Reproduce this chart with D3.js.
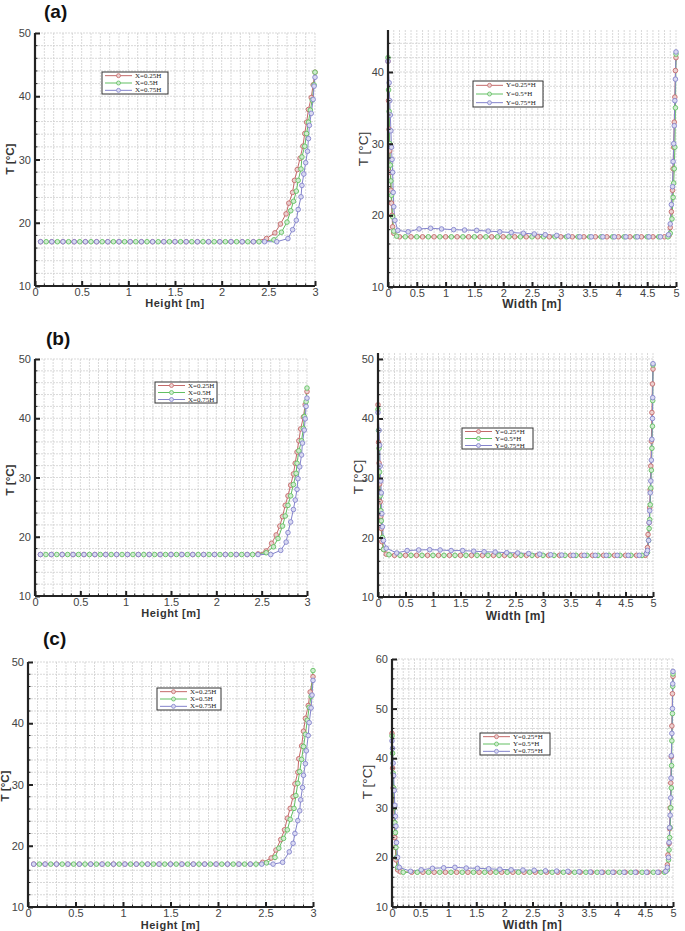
<!DOCTYPE html>
<html><head><meta charset="utf-8">
<script src="https://cdn.jsdelivr.net/npm/d3@7"></script>
<style>body{margin:0;background:#fff}svg{display:block}</style>
</head><body>
<svg id="chart" width="685" height="931"></svg>
<script>
// ---------------- DATA ----------------
const heightTicks = [0, 0.5, 1, 1.5, 2, 2.5, 3];
const heightTickLabels = ["0", "0.5", "1", "1.5", "2", "2.5", "3"];
const widthTicks = [0, 0.5, 1, 1.5, 2, 2.5, 3, 3.5, 4, 4.5, 5];
const widthTickLabels = ["0", "0.5", "1", "1.5", "2", "2.5", "3", "3.5", "4", "4.5", "5"];
const tempTicks40 = [10, 20, 30, 40];
const tempTicks50 = [10, 20, 30, 40, 50];
const tempTicks60 = [10, 20, 30, 40, 50, 60];
const legendX = ["X=0.25H", "X=0.5H", "X=0.75H"];
const legendY = ["Y=0.25*H", "Y=0.5*H", "Y=0.75*H"];
const panelTitles = ["(a)", "(b)", "(c)"];
const xTitleH = "Height [m]";
const xTitleW = "Width [m]";
const yTitle = "T [°C]";

// (a) temperature vs height
const aH_25 = [[0.06,17],[0.18,17],[0.30,17],[0.42,17],[0.54,17],[0.66,17],[0.78,17],[0.90,17],[1.02,17],[1.14,17],[1.26,17],[1.38,17],[1.50,17],[1.62,17],[1.74,17],[1.86,17],[1.98,17],[2.10,17],[2.22,17],[2.34,17],
  [2.48,17.5],[2.57,18.4],[2.63,19.8],[2.69,21.4],[2.72,23.1],[2.76,24.8],[2.78,26.7],[2.81,28.4],[2.84,30.2],[2.87,32.1],[2.89,34.1],[2.91,35.9],[2.93,37.9],[2.96,39.8],[2.98,41.8],[3.0,43.8]];
const aH_50 = [[0.12,17],[0.24,17],[0.36,17],[0.48,17],[0.60,17],[0.72,17],[0.84,17],[0.96,17],[1.08,17],[1.20,17],[1.32,17],[1.44,17],[1.56,17],[1.68,17],[1.80,17],[1.92,17],[2.04,17],[2.16,17],[2.28,17],[2.40,17],
  [2.56,17.3],[2.64,18.5],[2.70,20.1],[2.74,21.9],[2.77,23.4],[2.80,25.0],[2.82,26.7],[2.85,28.5],[2.86,30.4],[2.89,32.1],[2.91,34.1],[2.93,35.9],[2.95,37.8],[2.97,39.4],[2.99,41.8],[3.0,43.8]];
const aH_75 = [[0.06,17],[0.18,17],[0.30,17],[0.42,17],[0.54,17],[0.66,17],[0.78,17],[0.90,17],[1.02,17],[1.14,17],[1.26,17],[1.38,17],[1.50,17],[1.62,17],[1.74,17],[1.86,17],[1.98,17],[2.10,17],[2.22,17],[2.34,17],[2.46,17],[2.59,17],
  [2.71,17.5],[2.76,18.9],[2.80,20.4],[2.82,22.1],[2.85,24.1],[2.86,25.9],[2.88,27.7],[2.90,29.5],[2.92,31.3],[2.93,33.3],[2.94,35.4],[2.96,37.3],[2.98,39.5],[2.99,41.6],[3.0,43.0]];

// (a) temperature vs width
const aW_25 = [[0,41.5],[0.01,36],[0.02,32],[0.03,29],[0.04,26],[0.05,23.5],[0.06,21.7],[0.07,20],[0.08,18.4],[0.10,17.5],[0.20,17.0],
  [0.40,17],[0.60,17],[0.80,17],[1.00,17],[1.20,17],[1.40,17],[1.60,17],[1.80,17],[2.00,17],[2.20,17],[2.40,17],[2.60,17],[2.80,17],[3.00,17],[3.20,17],[3.40,17],[3.60,17],[3.80,17],[4.00,17],[4.20,17],[4.40,17],[4.60,17],[4.80,17],
  [4.88,17.2],[4.90,18.3],[4.92,20.5],[4.94,23.5],[4.95,26.5],[4.96,29.5],[4.97,33],[4.98,36.5],[4.99,40.2],[5.0,42]];
const aW_50 = [[0,42],[0.01,37.5],[0.02,34.5],[0.03,30],[0.04,27],[0.05,24.8],[0.06,22.8],[0.08,19.8],[0.10,17.8],[0.15,17.1],[0.30,17],
  [0.50,17],[0.70,17],[0.90,17],[1.10,17],[1.30,17],[1.50,17],[1.70,17],[1.90,17],[2.10,17],[2.30,17],[2.50,17],[2.70,17],[2.90,17],[3.10,17],[3.30,17],[3.50,17],[3.70,17],[3.90,17],[4.10,17],[4.30,17],[4.50,17],[4.70,17],
  [4.86,17],[4.90,17.5],[4.93,19.5],[4.95,22.5],[4.96,24.5],[4.97,26.5],[4.98,29.5],[4.99,35],[5.0,42.5]];
const aW_75 = [[0,41.5],[0.02,38.5],[0.03,36],[0.04,34],[0.05,31.8],[0.06,29.5],[0.07,27.8],[0.08,26],[0.09,23.2],[0.10,21.2],[0.12,19.3],[0.17,17.9],
  [0.35,17.7],[0.54,18.1],[0.74,18.2],[0.93,18.1],[1.14,18.0],[1.33,17.95],[1.54,17.9],[1.74,17.8],[1.94,17.7],[2.14,17.6],[2.35,17.5],[2.54,17.4],[2.73,17.3],[2.93,17.2],[3.13,17.1],[3.33,17.0],[3.53,17],[3.73,17],[3.93,17],[4.13,17],[4.33,17],[4.53,17],[4.73,17],
  [4.87,17.3],[4.90,18.8],[4.92,21.5],[4.94,24],[4.95,27.5],[4.96,30],[4.97,32.5],[4.98,36],[4.99,39],[5.0,42.8]];

// (b) temperature vs height
const bH_25 = [[0.06,17],[0.18,17],[0.30,17],[0.42,17],[0.54,17],[0.66,17],[0.78,17],[0.90,17],[1.02,17],[1.14,17],[1.26,17],[1.38,17],[1.50,17],[1.62,17],[1.74,17],[1.86,17],[1.98,17],[2.10,17],[2.22,17],[2.34,17],
  [2.46,17.1],[2.55,17.6],[2.61,18.9],[2.66,20.3],[2.70,21.8],[2.73,23.4],[2.76,25.3],[2.79,26.9],[2.82,28.7],[2.85,30.6],[2.87,32.4],[2.89,34.3],[2.91,36.2],[2.93,38.2],[2.96,40.2],[2.98,42.3],[3.0,44.5]];
const bH_50 = [[0.12,17],[0.24,17],[0.36,17],[0.48,17],[0.60,17],[0.72,17],[0.84,17],[0.96,17],[1.08,17],[1.20,17],[1.32,17],[1.44,17],[1.56,17],[1.68,17],[1.80,17],[1.92,17],[2.04,17],[2.16,17],[2.28,17],[2.40,17],
  [2.55,17.3],[2.63,18.3],[2.68,19.7],[2.73,21.8],[2.76,23.5],[2.79,25.3],[2.82,26.9],[2.85,28.8],[2.88,30.7],[2.89,32.4],[2.91,34.5],[2.94,36.2],[2.96,38.3],[2.97,40.3],[2.99,42.8],[3.0,45.1]];
const bH_75 = [[0.06,17],[0.18,17],[0.30,17],[0.42,17],[0.54,17],[0.66,17],[0.78,17],[0.90,17],[1.02,17],[1.14,17],[1.26,17],[1.38,17],[1.50,17],[1.62,17],[1.74,17],[1.86,17],[1.98,17],[2.10,17],[2.22,17],[2.34,17],[2.46,17],[2.60,17],
  [2.71,17.7],[2.77,19.1],[2.79,20.7],[2.82,22.5],[2.85,24.6],[2.87,26.2],[2.89,28.0],[2.90,29.8],[2.92,31.8],[2.94,33.8],[2.95,35.8],[2.97,38.0],[2.98,39.9],[2.99,42.0],[3.0,43.4]];

// (b) temperature vs width
const bW_25 = [[0,42.3],[0.01,36],[0.02,32.5],[0.03,29],[0.04,26],[0.05,23.5],[0.06,21.5],[0.07,19.3],[0.10,18],[0.15,17.2],[0.30,17],
  [0.50,17],[0.70,17],[0.90,17],[1.10,17],[1.30,17],[1.50,17],[1.70,17],[1.90,17],[2.10,17],[2.30,17],[2.50,17],[2.70,17],[2.90,17],[3.10,17],[3.30,17],[3.50,17],[3.70,17],[3.90,17],[4.10,17],[4.30,17],[4.50,17],[4.70,17],
  [4.86,17],[4.88,17.3],[4.90,18.3],[4.91,20.5],[4.93,22.5],[4.94,25],[4.95,28],[4.96,32],[4.97,36.2],[4.98,41],[4.99,45.8],[5.0,48.3]];
const bW_50 = [[0,41.5],[0.01,38],[0.02,35],[0.03,31],[0.04,27],[0.05,24.5],[0.06,22.8],[0.08,20],[0.10,18],[0.20,17.1],
  [0.40,17],[0.60,17],[0.80,17],[1.00,17],[1.20,17],[1.40,17],[1.60,17],[1.80,17],[2.00,17],[2.20,17],[2.40,17],[2.60,17],[2.80,17],[3.00,17],[3.20,17],[3.40,17],[3.60,17],[3.80,17],[4.00,17],[4.20,17],[4.40,17],[4.60,17],[4.80,17],
  [4.90,17.5],[4.92,19.5],[4.93,21.5],[4.94,23],[4.95,25.5],[4.96,28.3],[4.97,31.3],[4.98,35],[4.99,38.7],[4.995,43],[5.0,49]];
const bW_75 = [[0,41],[0.02,38],[0.03,35.5],[0.04,32],[0.05,29.5],[0.06,27.5],[0.07,24],[0.08,21.8],[0.10,19.5],[0.15,18.2],
  [0.34,17.4],[0.53,17.8],[0.74,17.9],[0.94,17.95],[1.13,17.9],[1.33,17.8],[1.54,17.8],[1.74,17.7],[1.93,17.6],[2.13,17.55],[2.34,17.45],[2.54,17.4],[2.74,17.3],[2.94,17.2],[3.14,17.1],[3.34,17.05],[3.55,17],[3.75,17],[3.95,17],[4.15,17],[4.35,17],[4.55,17],[4.75,17],
  [4.88,17.3],[4.90,17.8],[4.92,19.5],[4.93,22.5],[4.94,24.5],[4.95,27.5],[4.96,29.5],[4.97,33],[4.98,36.5],[4.99,40],[4.995,43.5],[5.0,49.2]];

// (c) temperature vs height
const cH_25 = [[0.06,17],[0.18,17],[0.30,17],[0.42,17],[0.54,17],[0.66,17],[0.78,17],[0.90,17],[1.02,17],[1.14,17],[1.26,17],[1.38,17],[1.50,17],[1.62,17],[1.74,17],[1.86,17],[1.98,17],[2.10,17],[2.22,17],[2.34,17],
  [2.47,17.3],[2.56,18.0],[2.61,19.3],[2.66,21.0],[2.70,22.6],[2.73,24.5],[2.76,26.1],[2.79,28.0],[2.81,30.1],[2.84,32.0],[2.85,34.2],[2.88,36.3],[2.90,38.7],[2.92,40.8],[2.95,42.9],[2.97,45.1],[3.0,47.6]];
const cH_50 = [[0.12,17],[0.24,17],[0.36,17],[0.48,17],[0.60,17],[0.72,17],[0.84,17],[0.96,17],[1.08,17],[1.20,17],[1.32,17],[1.44,17],[1.56,17],[1.68,17],[1.80,17],[1.92,17],[2.04,17],[2.16,17],[2.28,17],[2.40,17],
  [2.51,17.2],[2.60,18.1],[2.64,19.6],[2.69,21.2],[2.73,22.6],[2.76,24.3],[2.80,26.1],[2.82,28.2],[2.84,30.2],[2.86,32.1],[2.88,34.1],[2.90,36.2],[2.92,38.2],[2.94,40.5],[2.96,42.6],[2.98,44.4],[3.0,48.6]];
const cH_75 = [[0.06,17],[0.18,17],[0.30,17],[0.42,17],[0.54,17],[0.66,17],[0.78,17],[0.90,17],[1.02,17],[1.14,17],[1.26,17],[1.38,17],[1.50,17],[1.62,17],[1.74,17],[1.86,17],[1.98,17],[2.10,17],[2.22,17],[2.34,17],[2.46,17],[2.58,17],
  [2.68,17.3],[2.75,19.0],[2.79,20.4],[2.81,22.0],[2.84,24.1],[2.86,25.7],[2.87,27.5],[2.89,29.5],[2.90,31.5],[2.92,33.4],[2.93,35.5],[2.95,38.0],[2.96,40.1],[2.98,42.5],[2.99,44.6],[3.0,47.0]];

// (c) temperature vs width
const cW_25 = [[0,45],[0.01,38],[0.02,34],[0.03,30],[0.04,27],[0.05,24],[0.06,22],[0.07,19.5],[0.10,17.5],[0.15,17.1],[0.35,17],
  [0.55,17],[0.75,17],[0.95,17],[1.15,17],[1.35,17],[1.55,17],[1.75,17],[1.95,17],[2.15,17],[2.35,17],[2.55,17],[2.75,17],[2.95,17],[3.15,17],[3.35,17],[3.55,17],[3.75,17],[3.95,17],[4.15,17],[4.35,17],[4.55,17],[4.75,17],
  [4.88,17.3],[4.90,18.5],[4.91,20.5],[4.93,22.8],[4.94,25.8],[4.95,30],[4.96,35],[4.97,40.3],[4.98,46.5],[4.99,53],[5.0,56.5]];
const cW_50 = [[0,44.5],[0.01,41],[0.02,37],[0.03,34],[0.04,30],[0.05,27],[0.06,25],[0.07,22],[0.08,20],[0.10,18],[0.20,17],
  [0.45,17],[0.65,17],[0.85,17],[1.05,17],[1.25,17],[1.45,17],[1.65,17],[1.85,17],[2.05,17],[2.25,17],[2.45,17],[2.65,17],[2.85,17],[3.05,17],[3.25,17],[3.45,17],[3.65,17],[3.85,17],[4.05,17],[4.25,17],[4.45,17],[4.65,17],[4.85,17],
  [4.90,17.5],[4.92,19.5],[4.93,21.5],[4.94,24],[4.95,26],[4.96,30],[4.97,34],[4.975,38.5],[4.98,43.5],[4.99,49],[4.995,54.5],[5.0,57]];
const cW_75 = [[0,43.5],[0.01,42],[0.02,39],[0.03,36.5],[0.04,33.5],[0.05,30.5],[0.06,28.3],[0.07,26.3],[0.08,23],[0.10,20],[0.13,18],
  [0.33,17.2],[0.52,17.5],[0.72,17.8],[0.92,17.9],[1.12,18.0],[1.32,17.85],[1.52,17.8],[1.72,17.7],[1.92,17.6],[2.12,17.5],[2.33,17.45],[2.53,17.4],[2.73,17.3],[2.93,17.25],[3.13,17.2],[3.33,17.1],[3.53,17.05],[3.73,17],[3.93,17],[4.13,17],[4.33,17],[4.53,17],[4.73,17],
  [4.87,17.2],[4.90,18],[4.92,20],[4.93,23],[4.94,26],[4.95,28.5],[4.96,32],[4.965,36],[4.97,40.5],[4.98,45],[4.99,50],[4.995,55],[5.0,57.5]];

// ---------------- STYLE / LAYOUT ----------------
const colors = ["#c46a6a", "#62bf62", "#8484cc"];
const fills  = ["#ecd0d0", "#d0ecd0", "#dadaf2"];

const panels = [
  {title: panelTitles[0], tx: 44, ty: 18, kind: "H", x0: 35, x1: 315, yT: 33, yB: 286, yMax: 50, yTicks: tempTicks50,
   series: [aH_25, aH_50, aH_75], leg: [102, 72, 66, 22], xlabY: 307, ylabX: 10, ylabY: 159},
  {kind: "W", x0: 388, x1: 676, yT: 30, yB: 287, yMax: 45.86, yTicks: tempTicks40,
   series: [aW_25, aW_50, aW_75], leg: [473, 81, 70, 26], xlabY: 308, ylabX: 363, ylabY: 149},
  {title: panelTitles[1], tx: 46, ty: 345, kind: "H", x0: 35, x1: 307, yT: 359, yB: 596, yMax: 50, yTicks: tempTicks50,
   series: [bH_25, bH_50, bH_75], leg: [155, 382, 62, 21], xlabY: 617, ylabX: 10, ylabY: 480},
  {kind: "W", x0: 378, x1: 653, yT: 353, yB: 597, yMax: 51, yTicks: tempTicks50,
   series: [bW_25, bW_50, bW_75], leg: [462, 428, 71, 21], xlabY: 620, ylabX: 358, ylabY: 477},
  {title: panelTitles[2], tx: 43, ty: 645, kind: "H", x0: 28, x1: 313, yT: 662, yB: 907, yMax: 50, yTicks: tempTicks50,
   series: [cH_25, cH_50, cH_75], leg: [157, 688, 64, 22], xlabY: 929, ylabX: 5, ylabY: 786},
  {kind: "W", x0: 392, x1: 673, yT: 659, yB: 907, yMax: 60, yTicks: tempTicks60,
   series: [cW_25, cW_50, cW_75], leg: [480, 733, 70, 22], xlabY: 929, ylabX: 367, ylabY: 782}
];

const svg = d3.select("#chart");
svg.append("rect").attr("width", 685).attr("height", 931).attr("fill", "#fff");

panels.forEach(p => {
  const isH = p.kind === "H";
  const xMax = isH ? 3 : 5;
  const x = d3.scaleLinear().domain([0, xMax]).range([p.x0, p.x1]);
  const y = d3.scaleLinear().domain([10, p.yMax]).range([p.yB, p.yT]);
  const g = svg.append("g");

  // grid
  const vx = d3.range(0, xMax * 10 + 1).map(i => i / 10);
  g.append("g").selectAll("line").data(vx).join("line")
    .attr("x1", d => x(d)).attr("x2", d => x(d)).attr("y1", p.yT).attr("y2", p.yB)
    .attr("stroke", "#cfcfcf").attr("stroke-width", 0.8).attr("stroke-dasharray", "2,1");
  const hy = d3.range(12, p.yMax + 0.01, 2);
  g.append("g").selectAll("line").data(hy).join("line")
    .attr("x1", p.x0).attr("x2", p.x1).attr("y1", d => y(d)).attr("y2", d => y(d))
    .attr("stroke", "#cfcfcf").attr("stroke-width", 0.8).attr("stroke-dasharray", "2,1");

  // lines and markers
  const line = d3.line().x(d => x(d[0])).y(d => y(d[1]));
  p.series.forEach((s, i) => {
    g.append("path").datum(s).attr("d", line).attr("fill", "none")
      .attr("stroke", colors[i]).attr("stroke-width", 1);
  });
  p.series.forEach((s, i) => {
    g.append("g").selectAll("circle").data(s).join("circle")
      .attr("cx", d => x(d[0])).attr("cy", d => y(d[1])).attr("r", 2.3)
      .attr("fill", fills[i]).attr("stroke", colors[i]).attr("stroke-width", 0.9);
  });

  // axes
  const xt = isH ? heightTicks : widthTicks;
  const xtl = isH ? heightTickLabels : widthTickLabels;
  const xAxis = d3.axisBottom(x).tickValues(xt).tickFormat((d, i) => xtl[i]).tickSize(-5).tickPadding(2);
  const gx = g.append("g").attr("transform", `translate(0,${p.yB})`).call(xAxis);
  const yAxis = d3.axisLeft(y).tickValues(p.yTicks).tickFormat(d3.format("d")).tickSize(-5).tickPadding(4);
  const gy = g.append("g").attr("transform", `translate(${p.x0},0)`).call(yAxis);
  // minor ticks
  const minorX = vx.filter(d => !xt.includes(d));
  gx.append("g").selectAll("line").data(minorX).join("line")
    .attr("x1", d => x(d)).attr("x2", d => x(d)).attr("y1", 0).attr("y2", -2.5)
    .attr("stroke", "#222").attr("stroke-width", 1);
  const minorY = hy.filter(d => !p.yTicks.includes(d));
  gy.append("g").selectAll("line").data(minorY).join("line")
    .attr("x1", 0).attr("x2", 2.5).attr("y1", d => y(d)).attr("y2", d => y(d))
    .attr("stroke", "#222").attr("stroke-width", 1);
  [gx, gy].forEach(a => {
    a.select(".domain").attr("stroke", "#222").attr("stroke-width", 2.2);
    a.selectAll(".tick line").attr("stroke", "#222").attr("stroke-width", 2);
    a.selectAll(".tick text").attr("font-family", "Liberation Sans, Arial, sans-serif")
      .attr("font-size", 11).attr("fill", "#444");
  });
  gx.select(".domain").attr("d", `M${p.x0},0H${p.x1}`);
  gy.select(".domain").attr("d", `M0,${p.yB}V${p.yT}`);

  // axis titles
  svg.append("text").attr("x", (p.x0 + p.x1) / 2).attr("y", p.xlabY)
    .attr("text-anchor", "middle").attr("font-family", "Liberation Sans, Arial, sans-serif")
    .attr("font-size", isH ? 11 : 12).attr("font-weight", "bold").attr("fill", "#333")
    .attr("letter-spacing", 0.5).text(isH ? xTitleH : xTitleW);
  svg.append("text").attr("transform", `translate(${p.ylabX},${p.ylabY}) rotate(-90)`)
    .attr("text-anchor", "middle").attr("dominant-baseline", "central")
    .attr("font-family", "Liberation Sans, Arial, sans-serif")
    .attr("font-size", isH ? 11.5 : 13.5).attr("font-weight", isH ? "bold" : "normal").attr("fill", "#333")
    .text(yTitle);

  // title
  if (p.title) {
    svg.append("text").attr("x", p.tx).attr("y", p.ty)
      .attr("font-family", "Liberation Sans, Arial, sans-serif").attr("font-size", 19)
      .attr("font-weight", "bold").attr("fill", "#111").text(p.title);
  }

  // legend
  const [lx, ly, lw, lh] = p.leg;
  const lg = svg.append("g");
  lg.append("rect").attr("x", lx).attr("y", ly).attr("width", lw).attr("height", lh)
    .attr("fill", "#fff").attr("stroke", "#333").attr("stroke-width", 1);
  const labels = isH ? legendX : legendY;
  const rowH = lh / 3;
  labels.forEach((t, i) => {
    const cy = ly + rowH * (i + 0.5);
    lg.append("line").attr("x1", lx + 3).attr("x2", lx + 30).attr("y1", cy).attr("y2", cy)
      .attr("stroke", colors[i]).attr("stroke-width", 1);
    lg.append("circle").attr("cx", lx + 16.5).attr("cy", cy).attr("r", 2)
      .attr("fill", fills[i]).attr("stroke", colors[i]).attr("stroke-width", 0.8);
    lg.append("text").attr("x", lx + 33).attr("y", cy).attr("dominant-baseline", "central")
      .attr("font-family", "Liberation Serif, Times New Roman, serif").attr("font-size", 7)
      .attr("fill", "#222").text(t);
  });
});
</script>
</body></html>
